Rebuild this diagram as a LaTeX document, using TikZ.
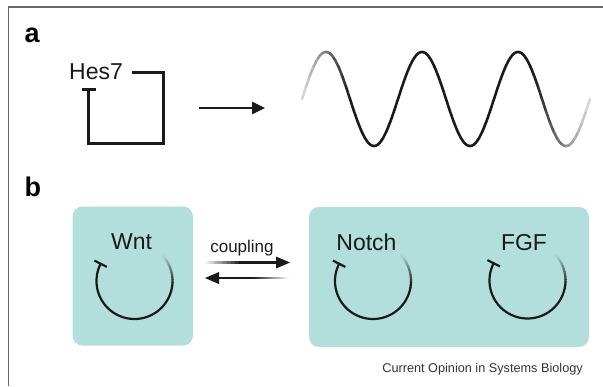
\documentclass[tikz,border=0pt]{standalone}
\usepackage{fontspec}
\setmainfont{Liberation Sans}
\usetikzlibrary{arrows.meta}
\definecolor{boxteal}{HTML}{B2DFDB}
\definecolor{framegray}{HTML}{666666}
\definecolor{inkc}{HTML}{1A1A1A}
\definecolor{capgray}{HTML}{333333}
\newcommand{\cycloop}[2]{%
  \foreach \k in {0,...,12}{%
    \pgfmathsetmacro\aa{-42+4*\k}%
    \pgfmathsetmacro\ab{\aa+4.5}%
    \pgfmathtruncatemacro\cc{5+95*\k/12}%
    \draw[cycline, color=inkc!\cc!boxteal] plot[domain=\aa:\ab, samples=4] ({#1+38*cos(\x)},{#2+38*sin(\x)});
  }%
  \draw[cycline, color=inkc] plot[domain=10:207, samples=60] ({#1+38*cos(\x)},{#2+38*sin(\x)});
  \draw[cycline, color=inkc, line cap=butt] ({#1+31*cos(207)},{#2+31*sin(207)}) -- ({#1+45*cos(207)},{#2+45*sin(207)});
}
\begin{document}
\begin{tikzpicture}[x=1pt,y=-1pt,
  lbl/.style={font=\fontsize{23}{25}\selectfont, anchor=base, inner sep=0pt, text=inkc},
  panel/.style={font=\bfseries\fontsize{27}{30}\selectfont, anchor=base west, inner sep=0pt, text=black},
  tealbox/.style={fill=boxteal, rounded corners=10pt, draw=none},
  loopline/.style={line width=3pt, line cap=butt, line join=miter, color=inkc},
  cycline/.style={line width=2.2pt, line cap=round},
  waveline/.style={line width=2.6pt, line cap=round}]
\useasboundingbox (0,0) rectangle (603,386);
% frame
\draw[framegray, line width=1.3pt] (8.5,386) -- (8.5,7) -- (603,7);
% panel a
\node[panel] (pa) at (24.5,42) {a};
\node[lbl, anchor=base west] (hes) at (69,79) {Hes7};
\coordinate (h1) at (132,72);
\coordinate (h2) at (163,72);
\coordinate (h3) at (163,143);
\coordinate (h4) at (88,143);
\coordinate (h5) at (88,89);
\draw[loopline] (h1) -- (h2) -- (h3) -- (h4) -- (h5);
\draw[loopline] (82,89) -- (96,89);
\coordinate (arS) at (199,108);
\coordinate (arE) at (265,108);
\draw[line width=2.6pt, color=inkc, -{Triangle[length=13pt,width=12pt]}] (arS) -- (arE);
% wave
\foreach \i in {0,...,71}{%
  \pgfmathsetmacro\xa{4*\i}%
  \pgfmathsetmacro\xb{\xa+4}%
  \pgfmathsetmacro\ff{min(1,(\xa+2)/48,(288-\xa-2)/55)}%
  \pgfmathtruncatemacro\cc{15+85*\ff}%
  \draw[waveline, color=inkc!\cc!white] plot[domain=\xa:\xb, samples=5] ({302+\x},{99-47*sin(3.75*\x)});
}
% panel b
\node[panel] (pb) at (24.5,196) {b};
\fill[tealbox] (72.5,206.5) rectangle (193,345.5);
\fill[tealbox] (309,207) rectangle (589,347);
\node[lbl] (wnt) at (131.5,249) {Wnt};
\node[lbl] (notch) at (366.5,250) {Notch};
\node[lbl] (fgf) at (524,250) {FGF};
\cycloop{134.5}{281}
\cycloop{373}{281}
\cycloop{527.5}{280.5}
% coupling
\node[font=\fontsize{17}{19}\selectfont, anchor=base, inner sep=0pt, text=inkc] (coup) at (242,252) {coupling};
\foreach \k in {0,...,13}{%
  \pgfmathsetmacro\xa{205+2.6*\k}%
  \pgfmathsetmacro\xb{\xa+2.8}%
  \pgfmathtruncatemacro\cc{5+95*\k/13}%
  \fill[color=inkc!\cc!white] (\xa,261.1) rectangle (\xb,263.9);
}
\fill[inkc] (241,261.1) rectangle (277,263.9);
\fill[inkc] (276,256.5) -- (290,262.5) -- (276,268.5) -- cycle;
\fill[inkc] (205,278) -- (219,272) -- (219,284) -- cycle;
\fill[inkc] (218,276.6) rectangle (253,279.4);
\foreach \k in {0,...,13}{%
  \pgfmathsetmacro\xa{252.5+2.6*\k}%
  \pgfmathsetmacro\xb{\xa+2.8}%
  \pgfmathtruncatemacro\cc{100-95*\k/13}%
  \fill[color=inkc!\cc!white] (\xa,276.6) rectangle (\xb,279.4);
}
% caption
\node[font=\fontsize{12.7}{14}\selectfont, anchor=base east, inner sep=0pt, text=capgray] (cap) at (583,372) {Current Opinion in Systems Biology};
\end{tikzpicture}
\end{document}
